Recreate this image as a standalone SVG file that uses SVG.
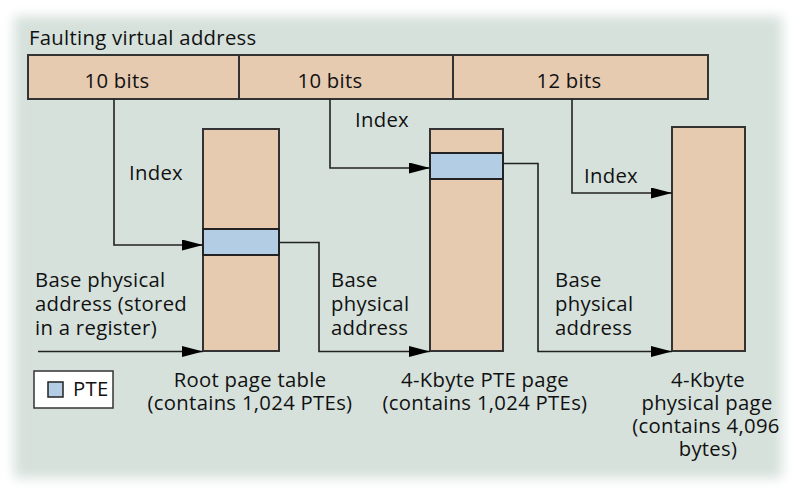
<svg xmlns="http://www.w3.org/2000/svg" width="794" height="495" viewBox="0 0 794 495">
<defs>
<filter id="soft" x="-10%" y="-10%" width="120%" height="120%"><feGaussianBlur stdDeviation="6"/></filter>
<marker id="arr" markerUnits="userSpaceOnUse" markerWidth="22" markerHeight="11" refX="21" refY="5.5" orient="auto"><path d="M0,0 L21,5.5 L0,11 Z" fill="#000"/></marker>
</defs>
<style>
text{font-family:"Open Sans","Noto Sans","Liberation Sans",sans-serif;font-size:20.3px;letter-spacing:0.3px;fill:#111}
.tan{fill:#e6cbb1;stroke:#333;stroke-width:2}
.pte{fill:#b3cde4;stroke:#222;stroke-width:2}
.conn{fill:none;stroke:#222;stroke-width:1.6}
.mid{text-anchor:middle}
</style>
<rect width="794" height="495" fill="#ffffff"/>
<rect x="14" y="16" width="768" height="462" fill="#d6e1dc" filter="url(#soft)"/>
<text x="29" y="45">Faulting virtual address</text>
<g id="address">
<rect class="tan" x="28" y="55" width="680" height="44"/>
<line x1="239" y1="55" x2="239" y2="99" stroke="#333" stroke-width="2"/>
<line x1="453" y1="55" x2="453" y2="99" stroke="#333" stroke-width="2"/>
<text class="mid" x="117" y="88">10 bits</text>
<text class="mid" x="330" y="88">10 bits</text>
<text class="mid" x="569" y="88">12 bits</text>
</g>
<g id="root-table">
<rect class="tan" x="203" y="129" width="76" height="222"/>
<rect class="pte" x="203" y="229" width="76" height="26"/>
<text class="mid" x="250" y="387">Root page table</text>
<text class="mid" x="250" y="410">(contains 1,024 PTEs)</text>
</g>
<g id="pte-page">
<rect class="tan" x="430" y="129" width="73" height="222"/>
<rect class="pte" x="430" y="153" width="73" height="26"/>
<text class="mid" x="485" y="387">4-Kbyte PTE page</text>
<text class="mid" x="485" y="410">(contains 1,024 PTEs)</text>
</g>
<g id="physical-page">
<rect class="tan" x="672" y="127" width="73" height="224"/>
<text class="mid" x="708" y="387">4-Kbyte</text>
<text class="mid" x="707" y="410">physical page</text>
<text class="mid" x="706" y="433">(contains 4,096</text>
<text class="mid" x="708" y="456">bytes)</text>
</g>
<g id="legend">
<rect x="34" y="371" width="79" height="37" fill="#fff" stroke="#333" stroke-width="1.5"/>
<rect x="48" y="382" width="15" height="15" fill="#b3cde4" stroke="#222" stroke-width="1.5"/>
<text x="73" y="396">PTE</text>
</g>
<g id="connectors">
<path class="conn" d="M114,99 V245 H203" marker-end="url(#arr)"/>
<path class="conn" d="M330,99 V168 H430" marker-end="url(#arr)"/>
<path class="conn" d="M572,99 V193 H672" marker-end="url(#arr)"/>
<path class="conn" d="M38,351.5 H203" marker-end="url(#arr)"/>
<path class="conn" d="M279,242.5 H319 V351.5 H430" marker-end="url(#arr)"/>
<path class="conn" d="M503,163.5 H538 V351.5 H672" marker-end="url(#arr)"/>
</g>
<g id="labels">
<text x="129" y="180">Index</text>
<text x="355" y="127">Index</text>
<text x="584" y="183">Index</text>
<text x="35" y="287">Base physical</text>
<text x="35" y="311">address (stored</text>
<text x="35" y="335">in a register)</text>
<text x="331" y="287">Base</text>
<text x="331" y="311">physical</text>
<text x="331" y="335">address</text>
<text x="555" y="287">Base</text>
<text x="555" y="311">physical</text>
<text x="555" y="335">address</text>
</g>
</svg>
